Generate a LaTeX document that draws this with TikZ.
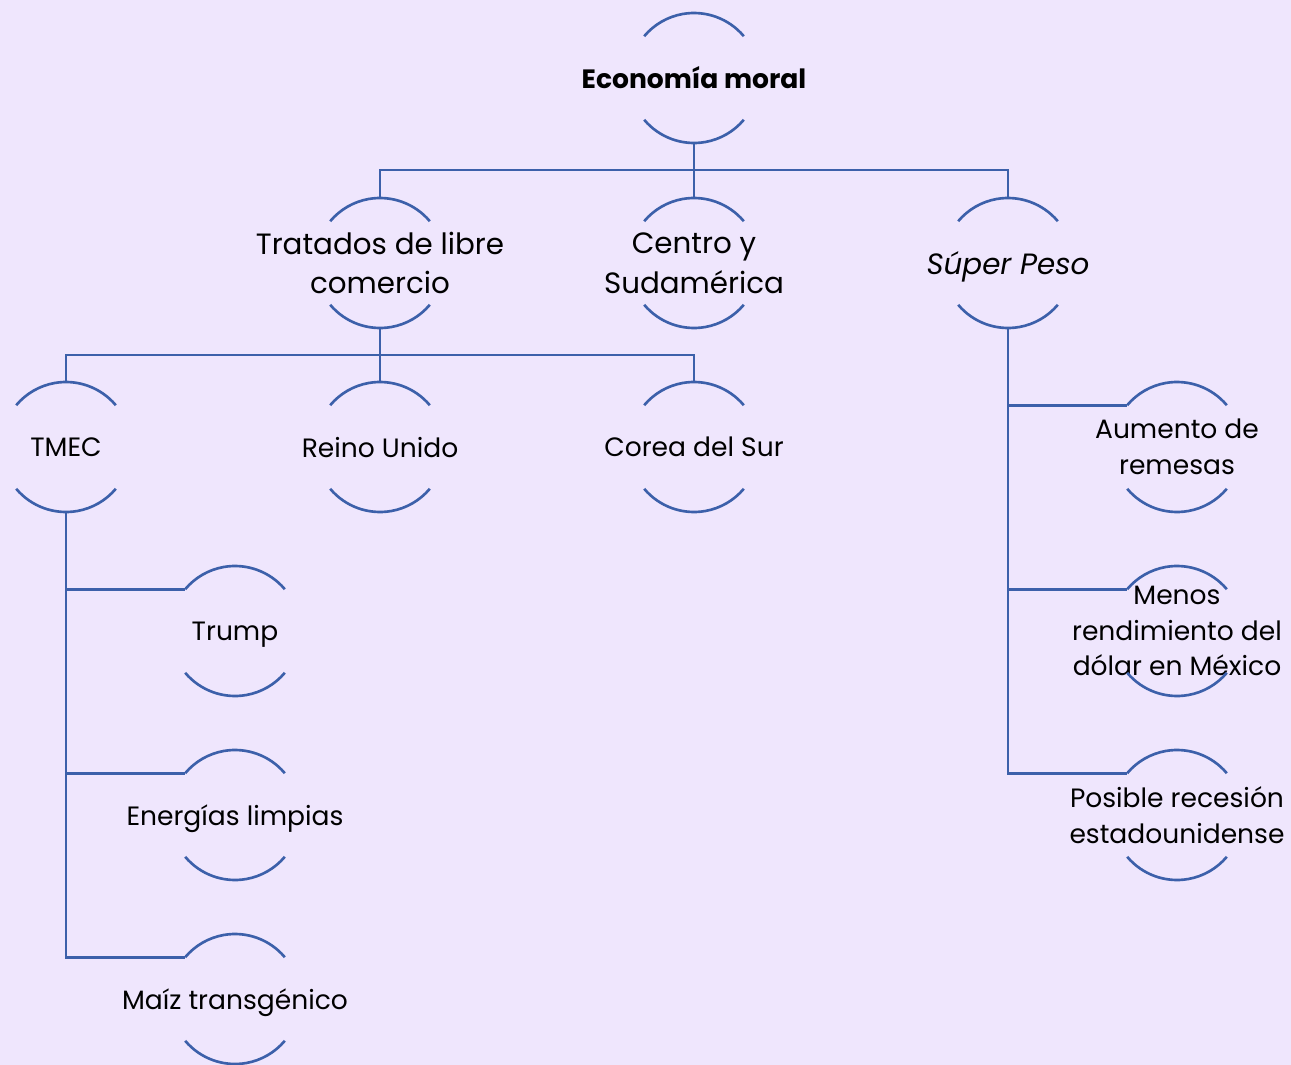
\documentclass[tikz,border=0pt]{standalone}
\usepackage{fontspec}
\setmainfont{Poppins}
\definecolor{bgpurple}{RGB}{239,230,253}
\definecolor{linkblue}{RGB}{60,96,170}
\begin{document}
\begin{tikzpicture}[
  label/.style={align=center, text=black, font=\fontsize{15.1}{20.4}\selectfont},
  biglabel/.style={align=center, text=black, font=\fontsize{16.7}{22.7}\selectfont},
  oneline/.style={text depth=0pt},
  arcline/.style={draw=linkblue, line width=1.5pt},
  link/.style={draw=linkblue, line width=1.5pt}
]
% Background and bounding box
\fill[bgpurple] (0,0) rectangle (25.82,-21.30);
\useasboundingbox (0,0) rectangle (25.82,-21.30);
% Root
\node[label, font=\fontsize{15.1}{20.4}\selectfont\bfseries] (root) at (13.88,-1.56) {Economía moral};
% First level
\node[biglabel] (trat) at (7.60,-5.26) {Tratados de libre\\comercio};
\node[biglabel] (cen) at (13.88,-5.26) {Centro y\\Sudamérica};
\node[biglabel, oneline] (sup) at (20.16,-5.26) {\itshape Súper Peso};
% Second level
\node[label, oneline] (tmec) at (1.32,-8.94) {TMEC};
\node[label, oneline] (reino) at (7.60,-8.94) {Reino Unido};
\node[label, oneline] (corea) at (13.88,-8.94) {Corea del Sur};
\node[label] (aum) at (23.54,-8.94) {Aumento de\\remesas};
% Third level
\node[label, oneline] (trump) at (4.70,-12.62) {Trump};
\node[label, oneline] (energ) at (4.70,-16.30) {Energías limpias};
\node[label, oneline] (maiz) at (4.70,-19.98) {Maíz transgénico};
\node[label] (menos) at (23.54,-12.62) {Menos\\rendimiento del\\dólar en México};
\node[label] (posible) at (23.54,-16.30) {Posible recesión\\estadounidense};
% Draw the arcs of every node
\foreach \n in {root,trat,cen,sup,tmec,reino,corea,aum,trump,energ,maiz,menos,posible} {
  \draw[arcline] ([shift={(40:1.3)}]\n.center) arc (40:140:1.3);
  \draw[arcline] ([shift={(220:1.3)}]\n.center) arc (220:320:1.3);
  \coordinate (\n-top) at ([yshift=1.3cm]\n.center);
  \coordinate (\n-bot) at ([yshift=-1.3cm]\n.center);
  \coordinate (\n-left) at ([shift={(140:1.3)}]\n.center);
}
% Connect root to first level
\draw[link] (root-bot) -- ++(0,-0.54) coordinate (j1);
\draw[link] (j1) -| (trat-top);
\draw[link] (j1) -- (cen-top);
\draw[link] (j1) -| (sup-top);
% Connect trade treaties to second level
\draw[link] (trat-bot) -- ++(0,-0.54) coordinate (j2);
\draw[link] (j2) -| (tmec-top);
\draw[link] (j2) -- (reino-top);
\draw[link] (j2) -| (corea-top);
% TMEC branch
\draw[link] (tmec-bot) |- (trump-left);
\draw[link] (tmec-bot) |- (energ-left);
\draw[link] (tmec-bot) |- (maiz-left);
% Super Peso branch
\draw[link] (sup-bot) |- (aum-left);
\draw[link] (sup-bot) |- (menos-left);
\draw[link] (sup-bot) |- (posible-left);
\end{tikzpicture}
\end{document}
